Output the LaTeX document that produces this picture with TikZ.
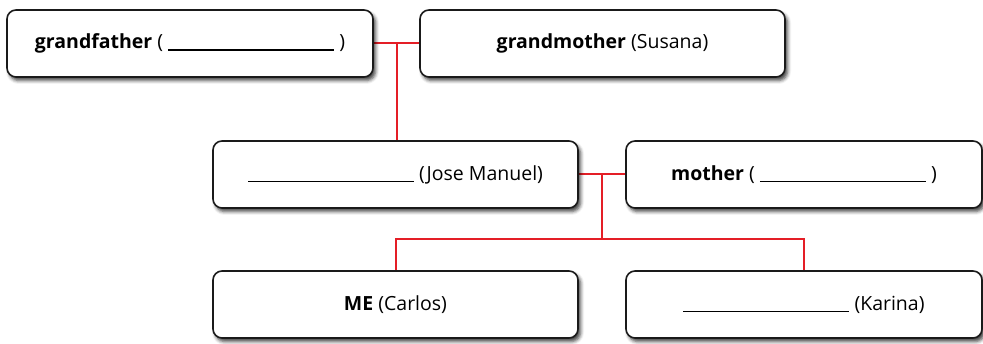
\documentclass[tikz,border=0pt]{standalone}
\usepackage{fontspec}
\setmainfont{Open Sans}
\usetikzlibrary{calc,backgrounds,shadows.blur}
\definecolor{ink}{HTML}{1A1A1A}
\definecolor{famred}{HTML}{E41E26}
\newcommand{\blankline}{\rule[-2pt]{166pt}{1.5pt}}

\begin{document}
\begin{tikzpicture}[
  x=1pt,y=-1pt,
  font=\fontsize{19.5}{22}\selectfont,
  person/.style={draw=ink,line width=1.6pt,fill=white,rounded corners=9pt,minimum height=67pt,inner sep=0pt,
    blur shadow={shadow xshift=2.5pt,shadow yshift=-3.5pt,shadow blur radius=3.5pt,shadow opacity=75}},
  link/.style={draw=famred,line width=2pt}
]
\useasboundingbox (0,0) rectangle (983,344);

% Grandparents
\node[person,minimum width=366pt] (gfather) at (190,43.5) {\textbf{grandfather} ( \blankline\ )};
\node[person,minimum width=365pt] (gmother) at (602.5,43.5) {\textbf{grandmother} (Susana)};

% Parents
\node[person,minimum width=365pt] (father) at (395.5,174.5) {\blankline\ (Jose Manuel)};
\node[person,minimum width=356pt] (mother) at (804,174.5) {\textbf{mother} ( \blankline\ )};

% Children
\node[person,minimum width=365pt] (me) at (395.5,304.5) {\textbf{ME} (Carlos)};
\node[person,minimum width=356pt] (sister) at (804,304.5) {\blankline\ (Karina)};

% Family links
\begin{scope}[on background layer]
\coordinate (gp) at ($(gfather.east)!.5!(gmother.west)$);
\draw[link] (gfather.east) -- (gmother.west);
\draw[link] (gp) -- (gp |- father.north);
\coordinate (pp) at ($(father.east)!.5!(mother.west)$);
\coordinate (kids) at ($(pp)+(0,65)$);
\draw[link] (father.east) -- (mother.west);
\draw[link] (pp) -- (kids);
\draw[link] (me.north) |- (kids) -| (sister.north);
\end{scope}
\end{tikzpicture}
\end{document}
